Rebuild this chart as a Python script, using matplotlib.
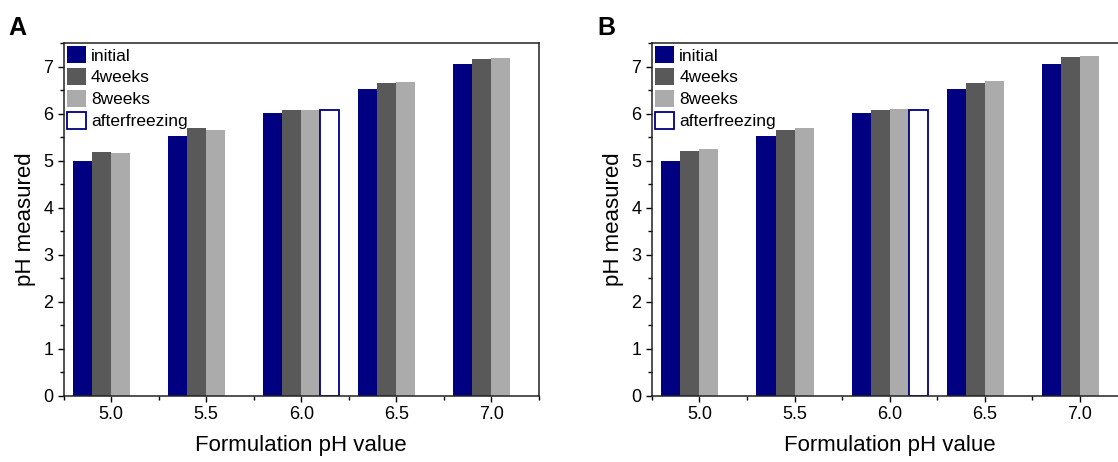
import matplotlib
matplotlib.use("Agg")
import matplotlib.pyplot as plt
from matplotlib.ticker import MultipleLocator

plt.rcParams['font.family'] = ['Liberation Sans', 'DejaVu Sans']

# formulation pH (x positions) and measured values
formulation_ph = [5.0, 5.5, 6.0, 6.5, 7.0]
series_names = ['initial', '4weeks', '8weeks', 'afterfreezing']

a_initial = [5.00, 5.52, 6.01, 6.53, 7.05]
a_4weeks = [5.19, 5.69, 6.08, 6.66, 7.17]
a_8weeks = [5.16, 5.66, 6.09, 6.68, 7.19]
a_freeze_x = [6.0]
a_freeze = [6.09]

b_initial = [5.00, 5.52, 6.01, 6.53, 7.05]
b_4weeks = [5.20, 5.65, 6.09, 6.66, 7.21]
b_8weeks = [5.24, 5.69, 6.11, 6.70, 7.22]
b_freeze_x = [6.0]
b_freeze = [6.09]

NAVY = '#000080'
DARK = '#595959'
LIGHT = '#ababab'
W = 0.1

fig = plt.figure(figsize=(11.18, 4.62), dpi=100)
ax_a = fig.add_axes([0.0569, 0.1439, 0.4252, 0.7623])
ax_b = fig.add_axes([0.5831, 0.1439, 0.4252, 0.7623])


def draw_panel(ax, initial, w4, w8, fx, fv, letter, lx):
    ax.bar([x - 0.15 for x in formulation_ph], initial, W, color=NAVY,
           label=series_names[0])
    ax.bar([x - 0.05 for x in formulation_ph], w4, W, color=DARK,
           label=series_names[1])
    ax.bar([x + 0.05 for x in formulation_ph], w8, W, color=LIGHT,
           label=series_names[2])
    ax.bar([x + 0.15 for x in fx], fv, W, facecolor='white', edgecolor=NAVY,
           linewidth=1.3, label=series_names[3])

    ax.set_xlim(4.75, 7.25)
    ax.set_ylim(0, 7.5)
    ax.set_xticks(formulation_ph)
    ax.set_xticklabels([f'{v:.1f}' for v in formulation_ph])
    ax.xaxis.set_minor_locator(MultipleLocator(0.25))
    ax.yaxis.set_major_locator(MultipleLocator(1))
    ax.yaxis.set_minor_locator(MultipleLocator(0.5))
    ax.tick_params(which='major', direction='out', length=4, width=1,
                   labelsize=13, top=False, right=False)
    ax.tick_params(which='minor', direction='out', length=3, width=1,
                   top=False, right=False)
    for s in ax.spines.values():
        s.set_linewidth(1.1)
        s.set_color('#222222')

    ax.set_xlabel('Formulation pH value', fontsize=16, labelpad=9)
    ax.set_ylabel('pH measured', fontsize=16, labelpad=5)

    ax.legend(loc='upper left', frameon=False, fontsize=12.5,
              handlelength=1.1, handleheight=1.1, handletextpad=0.3,
              labelspacing=0.27, borderaxespad=0.12, borderpad=0.05)

    fig.text(lx, 0.94, letter, fontsize=18, fontweight='bold',
             ha='left', va='center')


draw_panel(ax_a, a_initial, a_4weeks, a_8weeks, a_freeze_x, a_freeze, 'A',
           8 / 1118)
draw_panel(ax_b, b_initial, b_4weeks, b_8weeks, b_freeze_x, b_freeze, 'B',
           597 / 1118)

fig.savefig('out.png', dpi=100)
